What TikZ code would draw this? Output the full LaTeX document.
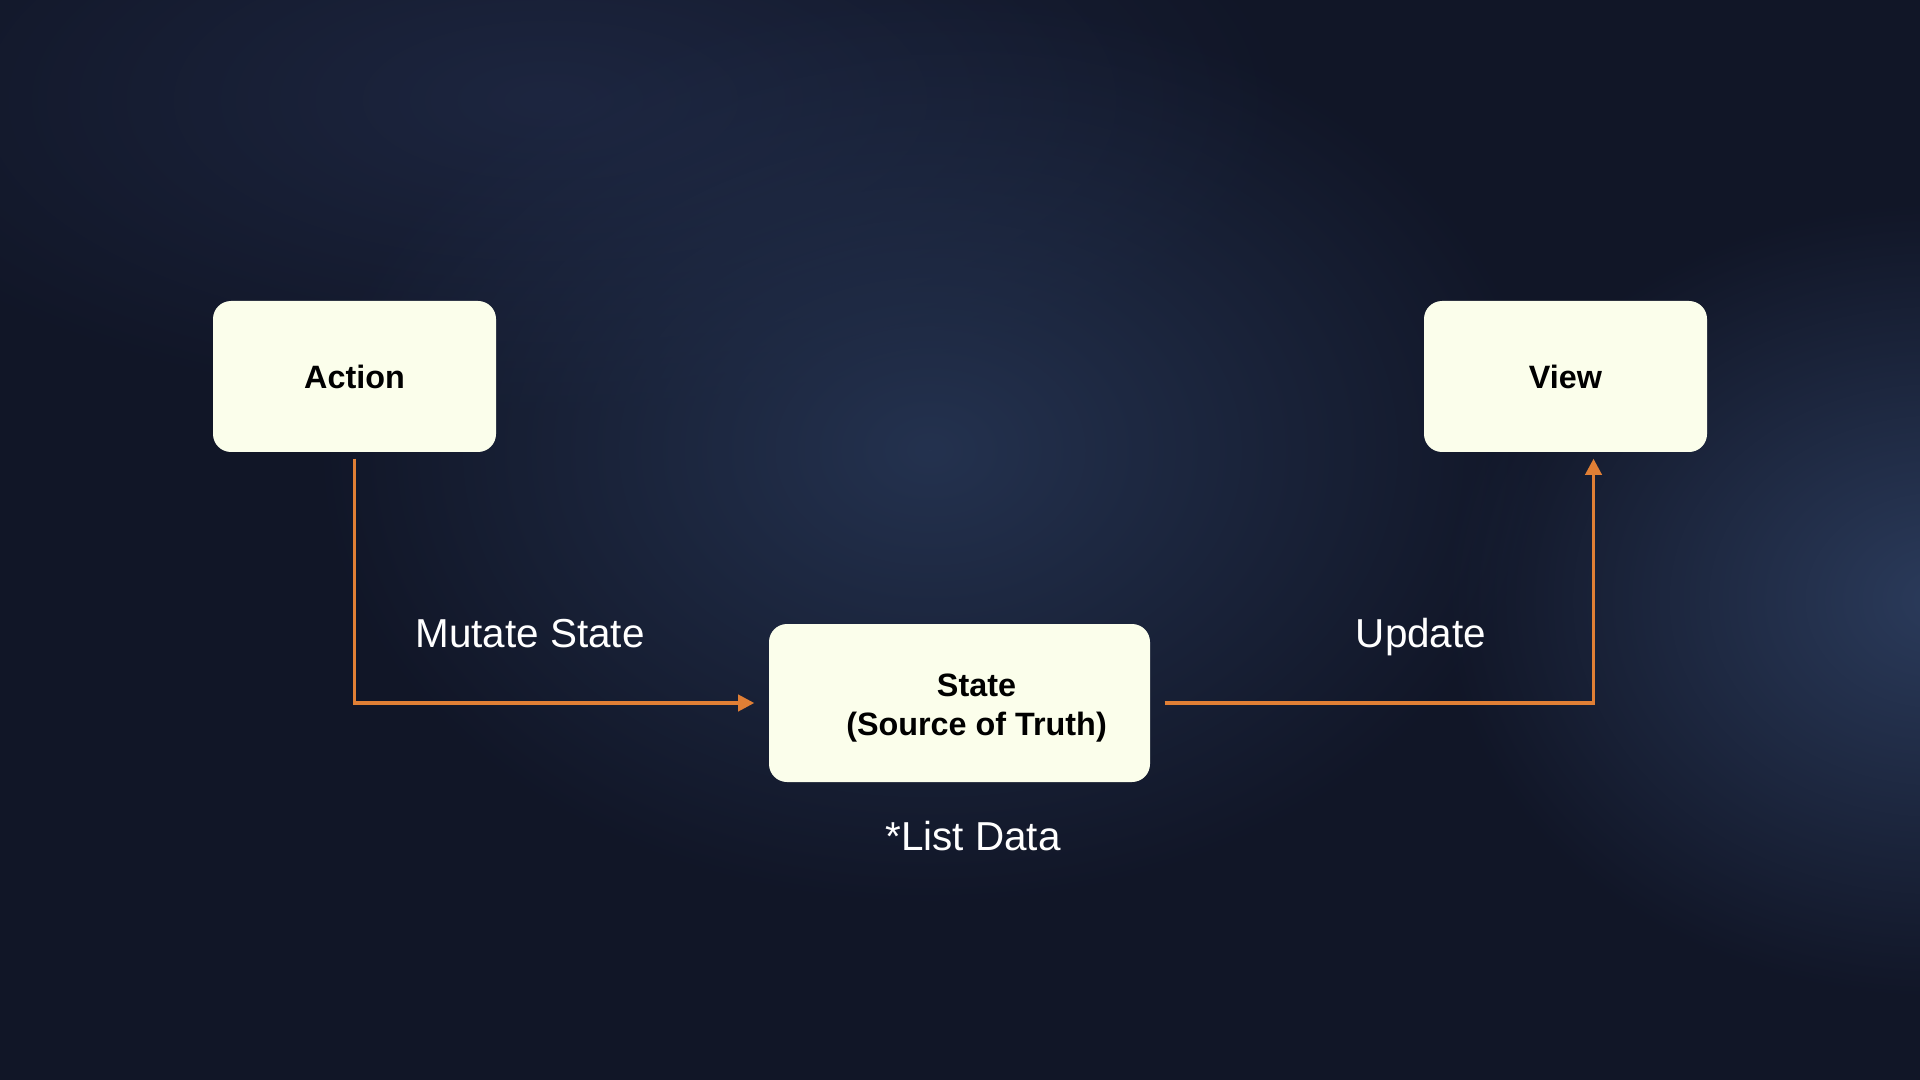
\documentclass[tikz,border=0pt]{standalone}
\usepackage{fontspec}
\setmainfont{Liberation Sans}
\usepackage{tikz}
\usetikzlibrary{arrows.meta,calc,fadings}

\definecolor{bgbase}{HTML}{111627}
\definecolor{glowmid}{HTML}{24324F}
\definecolor{glowright}{HTML}{2B3B5B}
\definecolor{glowtop}{HTML}{1D2640}
\definecolor{boxfill}{HTML}{FBFEEB}
\definecolor{flowline}{HTML}{E07F35}

\tikzfading[name=glow, inner color=transparent!0, outer color=transparent!100]

\tikzset{
  box/.style={draw=none, fill=boxfill, rounded corners=0.18cm, minimum width=2.83cm,
    minimum height=1.51cm, font=\fontsize{9.2}{11}\selectfont\bfseries, align=center},
  flow/.style={draw=flowline, line width=1pt, -{Triangle[length=4.6pt,width=4.6pt]}},
  lbl/.style={text=white, font=\fontsize{11.5}{13}\selectfont, anchor=base, inner sep=0pt}
}

\begin{document}
\begin{tikzpicture}
\fill[bgbase] (0,0) rectangle (19.2,-10.8);
\useasboundingbox (0,0) rectangle (19.2,-10.8);
\fill[glowtop, path fading=glow] (5.5,-1.0) ellipse (7.5 and 3.2);
\fill[glowmid, path fading=glow] (9.3,-4.5) ellipse (6.2 and 4.6);
\fill[glowright, path fading=glow] (19.4,-6.0) ellipse (5 and 4);

\node[box] (action) at (3.545,-3.765) {Action};
\node[box] (view) at (15.655,-3.765) {View};
\node[box, minimum width=3.81cm, minimum height=1.58cm, text height=0.71cm] (state) at (9.595,-7.03)
  {\hspace*{0.34cm}State\\\hspace*{0.34cm}(Source of Truth)};

\node[lbl] (mutate) at (5.30,-6.47) {Mutate State};
\node[lbl] (update) at (14.21,-6.47) {Update};
\node[lbl] (listdata) at (9.73,-8.50) {*List Data};

\draw[flow, shorten <=0.06cm, shorten >=0.14cm] (action) |- (state);
\draw[flow, shorten <=0.14cm, shorten >=0.06cm] (state) -| ([xshift=0.28cm]view.south);
\end{tikzpicture}
\end{document}
